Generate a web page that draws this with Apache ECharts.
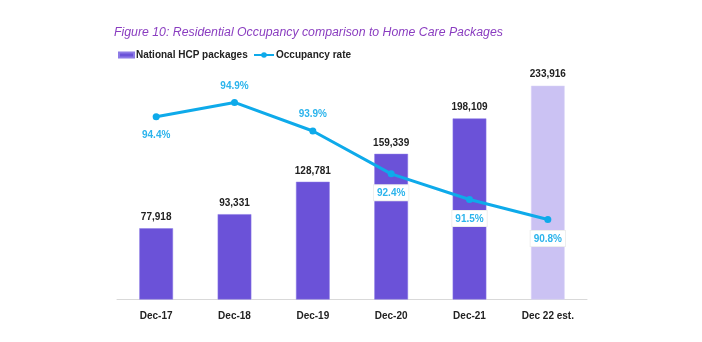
<!DOCTYPE html>
<html><head><meta charset="utf-8">
<script src="https://cdn.jsdelivr.net/npm/echarts@6/dist/echarts.min.js"></script>
<style>html,body{margin:0;padding:0;background:#fff}#c{width:702px;height:342px}</style>
</head><body><div id="c"></div>
<script>
var categories = ['Dec-17','Dec-18','Dec-19','Dec-20','Dec-21','Dec 22 est.'];
var hcpPackages = [77918, 93331, 128781, 159339, 198109, 233916];
var occupancyRate = [94.4, 94.9, 93.9, 92.4, 91.5, 90.8];
var labelBelow = [true, false, false, true, true, true];
var estimateIndex = 5;

var FONT = '"Liberation Sans",Arial,sans-serif';
var chart = echarts.init(document.getElementById('c'), null, {renderer:'canvas'});

var barData = hcpPackages.map(function(v,i){
  return i === estimateIndex ? {value:v, itemStyle:{color:'#cbc2f3', borderColor:'#ddd7f8'}} : v;
});
var lineData = occupancyRate.map(function(v,i){
  var below = labelBelow[i];
  var boxed = below && i > 0;
  return {value:v, label:{
    position: below ? 'bottom' : 'top',
    distance: below ? (boxed ? 8 : 10) : 8,
    backgroundColor: boxed ? '#ffffff' : 'transparent',
    borderColor: boxed ? '#eeeeee' : 'transparent',
    borderWidth: boxed ? 1 : 0,
    padding: boxed ? [3,3,2,3] : 0
  }};
});

var legendText = {fontFamily:FONT, fontWeight:'bold', fontSize:10, color:'#222', padding:[0,0,0,-3]};

chart.setOption({
  animation:false,
  title:{
    text:'Figure 10: Residential Occupancy comparison to Home Care Packages',
    left:109, top:22,
    textStyle:{fontFamily:FONT, fontStyle:'italic', fontWeight:'normal', fontSize:12.3, color:'#8a3dc0'}
  },
  legend:[
    {
      left:113, top:45, itemWidth:15, itemHeight:5,
      textStyle:legendText,
      data:[{name:'National HCP packages', icon:'rect', itemStyle:{color:'#6b52d8'}}]
    },
    {
      left:248, top:45, itemWidth:20, itemHeight:7,
      textStyle:legendText,
      data:[{name:'Occupancy rate'}]
    }
  ],
  grid:{left:117, right:115, top:71, bottom:42.5},
  xAxis:{
    type:'category', data:categories,
    axisLine:{lineStyle:{color:'#d9d9d9', width:1}},
    axisTick:{show:false},
    axisLabel:{margin:12, fontFamily:FONT, fontWeight:'bold', fontSize:10, color:'#222'}
  },
  yAxis:[
    {type:'value', min:0, max:250000, show:false, splitLine:{show:false}},
    {type:'value', min:88, max:96, show:false, splitLine:{show:false}}
  ],
  series:[
    {
      name:'National HCP packages', type:'bar', data:barData, barWidth:'43%',
      itemStyle:{color:'#6b52d8', borderColor:'#8d7be6', borderWidth:0.5},
      label:{show:true, position:'top', distance:6, fontFamily:FONT, fontWeight:'bold', fontSize:10, color:'#222',
        formatter:function(p){return p.value.toLocaleString('en-US');}}
    },
    {
      name:'Occupancy rate', type:'line', yAxisIndex:1, data:lineData, z:5,
      symbol:'circle', symbolSize:7,
      lineStyle:{color:'#0eaaea', width:3},
      itemStyle:{color:'#0eaaea'},
      label:{show:true, fontFamily:FONT, fontWeight:'bold', fontSize:10, color:'#2cb4ec',
        formatter:function(p){return p.value.toFixed(1)+'%';}}
    }
  ]
});
</script></body></html>
